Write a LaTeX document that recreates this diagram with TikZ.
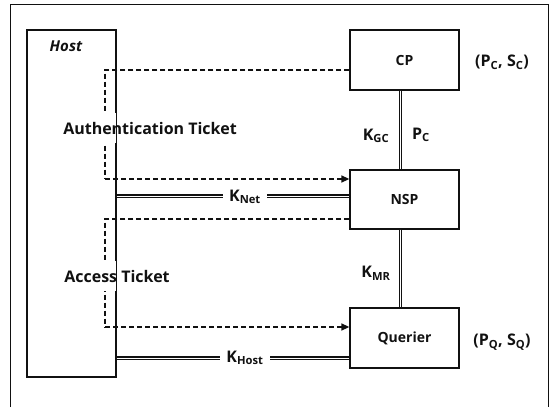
\documentclass[tikz,border=0pt]{standalone}
\usepackage{fontspec}
\setmainfont{Open Sans}
\usetikzlibrary{arrows.meta,positioning,calc}
\definecolor{tkink}{HTML}{111111}

\tikzset{
  ent/.style={draw=tkink,line width=1.3pt,minimum width=109pt,minimum height=60pt,
    font=\fontsize{14}{16}\selectfont\bfseries,text=tkink},
  tkt/.style={draw=tkink,line width=1.4pt,dash pattern=on 5pt off 3pt},
  keyln/.style={draw=tkink,double=white,double distance=0.9pt,line width=1.5pt},
  lbl/.style={font=\fontsize{16}{18}\selectfont\bfseries,text=tkink}
}

\begin{document}
\begin{tikzpicture}[x=1pt,y=-1pt]
\useasboundingbox (0,0) rectangle (551,407);
% outer frame, cut at the bottom
\draw[tkink,line width=1pt] (10,407) -- (10,4) -- (548,4) -- (548,407);

% entities
\node[ent,minimum width=89pt,minimum height=347pt] (host) at (71.5,203.5) {};
\node[lbl,font=\fontsize{15}{17}\selectfont\bfseries\itshape] (hostname) at (66,46) {Host};
\node[ent] (cp) at (404.5,60) {CP};
\node[ent,minimum height=59pt] (nsp) at (404.5,199.5) {NSP};
\node[ent] (qr) at (404.5,338) {Querier};
\node[lbl] (cpkeys) at (502,62) {(P\textsubscript{C}, S\textsubscript{C})};
\node[lbl] (qrkeys) at (502,342) {(P\textsubscript{Q}, S\textsubscript{Q})};

% ticket paths
\coordinate (auth1) at (105,70);
\coordinate (auth2) at (105,179);
\coordinate (acc1) at (105,219);
\coordinate (acc2) at (105,327);
\draw[tkt] ([yshift=-10pt]cp.west) -- (auth1) -- (auth2);
\draw[tkt,-{Triangle[length=8pt,width=7pt]}] (auth2) -- (auth2 -| nsp.west);
\draw[tkt] ([yshift=-19.5pt]nsp.west) -- (acc1) -- (acc2);
\draw[tkt,-{Triangle[length=8pt,width=7pt]}] (acc2) -- (acc2 -| qr.west);
\node[lbl,fill=white,inner ysep=9pt,inner xsep=1pt] (authtkt) at (150,128) {Authentication Ticket};
\node[lbl,fill=white,inner ysep=9pt,inner xsep=1pt] (acctkt) at (117,276) {Access Ticket};
\draw[tkink,line width=1.3pt] (host.north east) -- (host.south east);

% key links
\coordinate (net) at ([yshift=3.5pt]host.east |- nsp.west);
\draw[keyln] (net) -- (net -| nsp.west);
\node[lbl,fill=white,inner xsep=6pt] (knet) at (245,197) {K\textsubscript{Net}};
\coordinate (hk) at (host.east |- 0,358);
\draw[keyln] (hk) -- (hk -| qr.west);
\node[lbl,fill=white,inner xsep=6pt] (khost) at (245,358) {K\textsubscript{Host}};
\draw[keyln] ([xshift=-4pt]cp.south) -- ([xshift=-4pt]nsp.north);
\draw[keyln] ([xshift=-4pt]nsp.south) -- ([xshift=-4pt]qr.north);
\node[lbl] (kgc) at (376,136) {K\textsubscript{GC}};
\node[lbl] (pc) at (421,135) {P\textsubscript{C}};
\node[lbl] (kmr) at (376,273) {K\textsubscript{MR}};
\end{tikzpicture}
\end{document}
